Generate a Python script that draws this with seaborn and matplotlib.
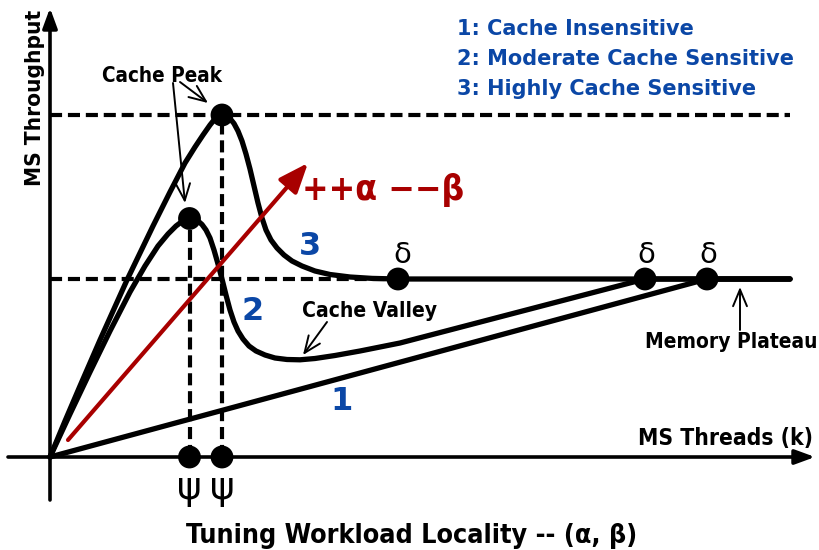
import matplotlib
matplotlib.use("Agg")
import matplotlib.pyplot as plt
import seaborn as sns

sns.set_style("white")
plt.rcParams['font.family'] = ['DejaVu Sans']
plt.rcParams['text.color'] = 'black'

# ---- data (x: MS threads, y: MS throughput, arbitrary conceptual units) ----
curve1_x = [0, 657, 740]
curve1_y = [0, 178, 178]

curve2_x = [0, 20, 40, 60, 80, 95, 108, 118, 126, 132, 136, 140,
            144, 148, 152, 156, 160, 164, 168, 172, 176, 180, 184, 188, 193, 199, 206,
            215, 225, 237, 250, 265, 285, 310, 350, 595, 740]
curve2_y = [0, 43, 85, 126, 165, 191, 211, 223, 231, 235.5, 237.2, 238.5,
            237.8, 236, 232.5, 227, 219, 207, 193, 178, 162, 147, 135, 126, 118, 111, 106,
            102, 99, 97.5, 97.2, 98.5, 101.5, 106, 114, 178, 178]

curve3_x = [0, 15, 30, 50, 77, 103, 120, 135, 145, 153, 160, 164, 168, 172, 176, 180, 184,
            188, 192, 196, 200, 204, 208, 212, 216, 221, 227, 234, 242, 252, 265, 280, 300,
            322, 348, 740]
curve3_y = [0, 36, 71, 117, 177, 231, 265, 294, 310, 322, 332, 337, 340.7, 342, 341.2, 338.5,
            333.5, 326, 316, 303, 288, 271, 254, 239, 227, 217, 209, 202, 196, 191, 186, 182.5,
            180, 178.6, 178, 178]

peak_x = [139.5, 172]
peak_y = [238.5, 342]
psi_x = [139.5, 172]
delta_x = [348, 595, 657]
plateau_y = 178

legend_lines = ["1: Cache Insensitive", "2: Moderate Cache Sensitive", "3: Highly Cache Sensitive"]

BLUE = "#0b47a6"
RED = "#a80000"

fig = plt.figure(figsize=(8.19, 5.5), dpi=100)
ax = fig.add_axes([0, 0, 1, 1])
ax.set_xlim(-50, 769)
ax.set_ylim(-93, 457)
ax.axis("off")

bold = dict(fontweight="bold")
cond = dict(fontweight="bold", fontstretch="condensed")

# axes arrows
ax.annotate("", xy=(0, 449), xytext=(0, -43),
            arrowprops=dict(arrowstyle="-|>,head_length=0.6,head_width=0.22", lw=2.6,
                            color="black", mutation_scale=20, shrinkA=0, shrinkB=0))
ax.annotate("", xy=(765, 0), xytext=(-42, 0),
            arrowprops=dict(arrowstyle="-|>,head_length=0.6,head_width=0.22", lw=2.6,
                            color="black", mutation_scale=20, shrinkA=0, shrinkB=0))

# dashed guide lines
dash = (2.9, 1.4)
guides = [([0, 740], [peak_y[1], peak_y[1]], "x"),
          ([0, 350], [plateau_y, plateau_y], "x"),
          ([peak_x[0], peak_x[0]], [0, peak_y[0]], "y"),
          ([peak_x[1], peak_x[1]], [0, peak_y[1]], "y")]
for gx, gy, o in guides:
    sns.lineplot(x=gx, y=gy, ax=ax, color="black", lw=3, zorder=1, orient=o)
    ax.lines[-1].set_dashes(dash)

# curves
for cx, cy in [(curve1_x, curve1_y), (curve2_x, curve2_y), (curve3_x, curve3_y)]:
    sns.lineplot(x=cx, y=cy, ax=ax, color="black", lw=3.8, sort=False, estimator=None, zorder=3)
    ax.lines[-1].set_solid_capstyle("round")
    ax.lines[-1].set_solid_joinstyle("round")

# red tuning arrow
ax.annotate("", xy=(258, 294), xytext=(18, 17),
            arrowprops=dict(arrowstyle="-|>,head_length=0.9,head_width=0.36", lw=3,
                            color=RED, mutation_scale=20, shrinkA=0, shrinkB=0), zorder=4)

# dots
sns.scatterplot(x=peak_x + psi_x + delta_x,
                y=peak_y + [0, 0] + [plateau_y] * 3,
                ax=ax, s=270, color="black", edgecolor="none", zorder=5, legend=False)

# greek labels
for x, dx in zip(delta_x, [4, 1, 1]):
    ax.text(x + dx, 194, "δ", ha="center", va="baseline", fontsize=21)
for x in psi_x:
    ax.text(x, -42, "ψ", ha="center", va="baseline", fontsize=27)

# curve numbers
ax.text(260, 202, "3", ha="center", va="baseline", fontsize=23, color=BLUE, **bold)
ax.text(203, 137, "2", ha="center", va="baseline", fontsize=23, color=BLUE, **bold)
ax.text(292, 47, "1", ha="center", va="baseline", fontsize=23, color=BLUE, **bold)

ax.text(333, 257, "++α −−β", ha="center", va="baseline", fontsize=25.5, color=RED, **cond)

# annotations
thin = dict(arrowstyle="->,head_length=0.6,head_width=0.25", lw=1.4, color="black",
            mutation_scale=20, shrinkA=0, shrinkB=0)
ax.annotate("", xy=(135, 254), xytext=(123, 374), arrowprops=thin)
ax.annotate("", xy=(158, 354), xytext=(130, 375), arrowprops=thin)
ax.annotate("", xy=(253, 102), xytext=(277, 135), arrowprops=thin)
ax.annotate("", xy=(690, 170), xytext=(690, 127), arrowprops=thin)

ax.text(112, 375, "Cache Peak", ha="center", va="baseline", fontsize=14.9, **cond)
ax.text(320, 140, "Cache Valley", ha="center", va="baseline", fontsize=15.1, **cond)
ax.text(681, 109, "Memory Plateau", ha="center", va="baseline", fontsize=15, **cond)
ax.text(675, 12, "MS Threads (k)", ha="center", va="baseline", fontsize=16.4, **cond)
ax.text(362, -86, "Tuning Workload Locality -- (α, β)", ha="center", va="baseline",
        fontsize=19.3, **cond)
ax.text(-9, 359, "MS Throughput", ha="center", va="baseline", rotation=90, fontsize=16.2,
        rotation_mode="anchor", **cond)

for i, t in enumerate(legend_lines):
    ax.text(407, 422 - 30 * i, t, ha="left", va="baseline", fontsize=15, color=BLUE, **bold)

fig.savefig("out.png", dpi=100)
